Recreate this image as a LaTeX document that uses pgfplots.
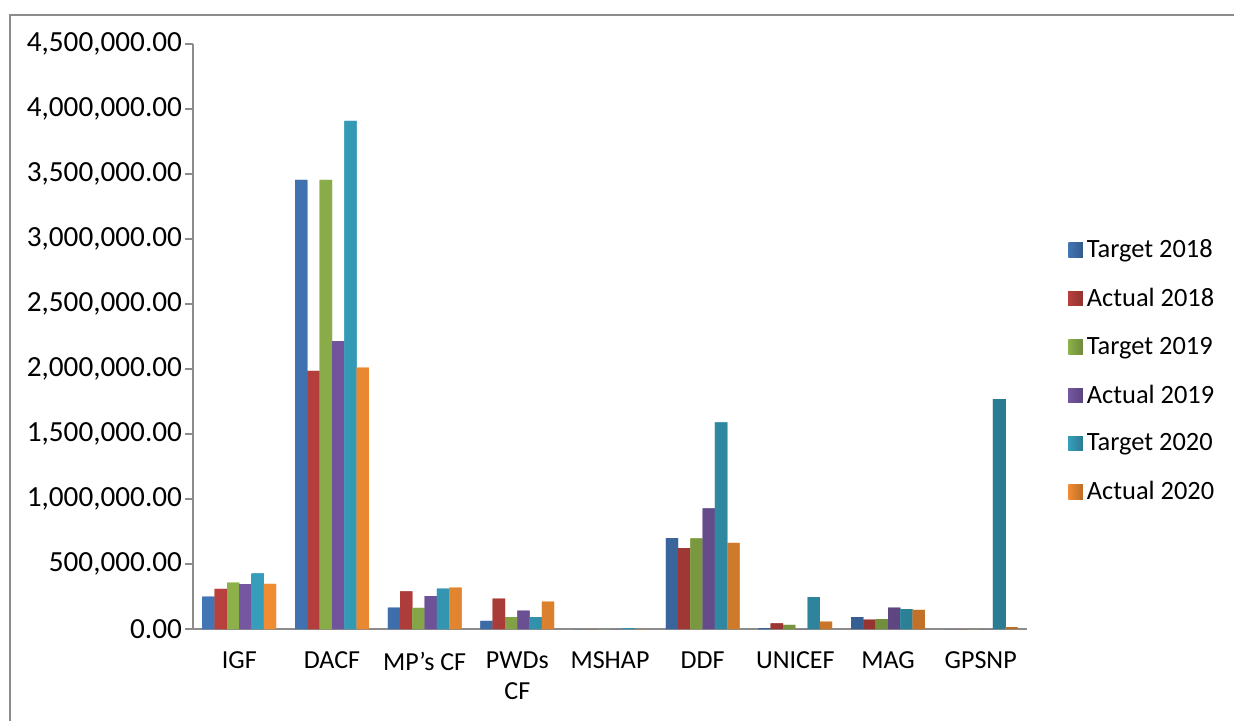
\documentclass[border=0pt]{standalone}
\usepackage{fontspec}
\setmainfont{Carlito}
\usepackage{pgfplots}
\pgfplotsset{compat=1.18}

\definecolor{cTA}{HTML}{4275B4}
\definecolor{cAA}{HTML}{B8403D}
\definecolor{cTB}{HTML}{8DB04A}
\definecolor{cAB}{HTML}{7457A0}
\definecolor{cTC}{HTML}{369EBA}
\definecolor{cAC}{HTML}{F08C32}
\definecolor{axgray}{HTML}{8C8C8C}

\pgfplotsset{
  barsty/.style={fill=#1, draw=none,
    left color=#1, right color=#1!78!black},
}

\begin{document}
\begin{tikzpicture}
\useasboundingbox (0,0) rectangle (617pt,-360pt);
% outer frame
\draw[axgray, line width=0.8pt] (5pt,-362pt) -- (5pt,-7.5pt) -- (619pt,-7.5pt);

\begin{axis}[
  at={(96.5pt,-314.5pt)}, anchor=south west,
  scale only axis, width=417pt, height=292.5pt,
  font=\fontsize{13}{15.5}\selectfont,
  ybar=0pt, bar width=6.15pt,
  xmin=-0.5, xmax=8.5,
  ymin=0, ymax=4500000,
  ytick={0,500000,...,4500000},
  scaled y ticks=false,
  yticklabel style={font=\fontsize{14.6}{16}\selectfont, xshift=2pt,
    /pgf/number format/fixed, /pgf/number format/precision=2,
    /pgf/number format/fixed zerofill, /pgf/number format/1000 sep={,},
    /pgf/number format/assume math mode=true},
  xtick={0,...,8},
  xticklabels={IGF,DACF,{MP’s CF},{PWDs\\CF},MSHAP,DDF,UNICEF,MAG,GPSNP},
  xticklabel style={align=center, text depth=0pt},
  x tick label style={yshift=-4pt},
  xtick style={draw=none},
  extra x ticks={-0.5,0.5,...,8.5},
  extra x tick labels={},
  extra x tick style={tick style={axgray, line width=0.8pt}, major tick length=4.5pt},
  tick align=outside,
  major tick length=4pt,
  ytick style={axgray, line width=0.8pt},
  axis x line*=bottom, axis y line*=left,
  axis line style={axgray, line width=0.8pt, -},
  legend style={at={(1.042,0.441)}, anchor=west, draw=none, fill=none,
    font=\fontsize{13.2}{15.5}\selectfont, row sep=9.8pt,
    /tikz/every even column/.append style={column sep=5pt}},
  legend cell align=left,
  legend image code/.code={\fill[#1] (0pt,-3.6pt) rectangle (7.2pt,3.6pt);},
]
\addplot[barsty=cTA] coordinates {(0,250000) (1,3455000) (2,165000) (3,62000) (4,0) (5,700000) (6,6000) (7,92000) (8,0)};
\addplot[barsty=cAA] coordinates {(0,308000) (1,1985000) (2,290000) (3,233000) (4,0) (5,623000) (6,44000) (7,72000) (8,0)};
\addplot[barsty=cTB] coordinates {(0,356000) (1,3455000) (2,162000) (3,92000) (4,0) (5,698000) (6,31000) (7,77000) (8,0)};
\addplot[barsty=cAB] coordinates {(0,346000) (1,2215000) (2,254000) (3,141000) (4,0) (5,928000) (6,0) (7,164000) (8,0)};
\addplot[barsty=cTC] coordinates {(0,428000) (1,3908000) (2,310000) (3,92000) (4,6000) (5,1590000) (6,246000) (7,154000) (8,1769000)};
\addplot[barsty=cAC] coordinates {(0,348000) (1,2010000) (2,318000) (3,210000) (4,0) (5,662000) (6,56000) (7,148000) (8,15000)};
\legend{Target 2018,Actual 2018,Target 2019,Actual 2019,Target 2020,Actual 2020}
\end{axis}
\end{tikzpicture}
\end{document}
